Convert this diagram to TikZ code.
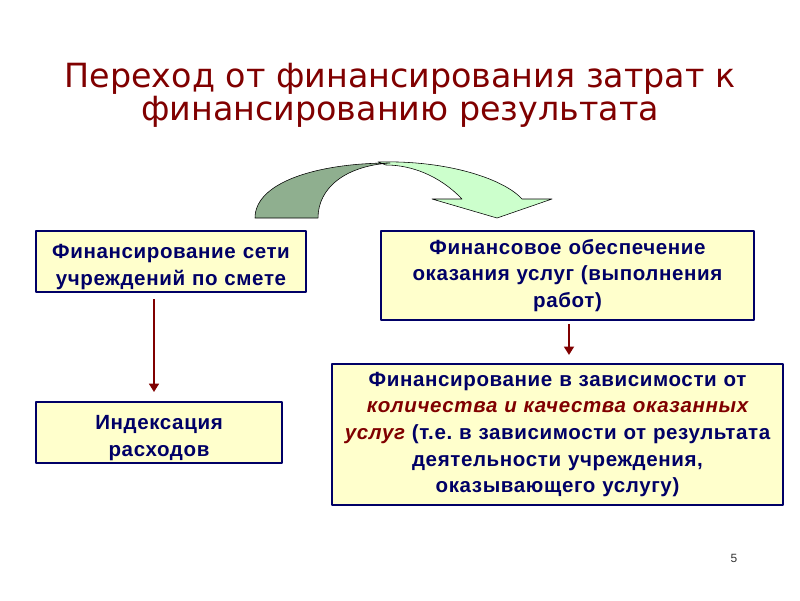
\documentclass[tikz,border=0pt]{standalone}
\usepackage{fontspec}
\setmainfont{Liberation Sans}
\newfontfamily\titlefont{DejaVu Sans}
\newfontfamily\boxfont[LetterSpace=3]{Liberation Sans}
\usepackage{tikz}
\usetikzlibrary{arrows.meta}
\frenchspacing

\definecolor{titlered}{RGB}{128,0,0}
\definecolor{boxnavy}{RGB}{0,0,102}
\definecolor{boxfill}{RGB}{255,255,204}
\definecolor{backgreen}{RGB}{143,175,143}
\definecolor{frontgreen}{RGB}{204,255,204}

\begin{document}
\begin{tikzpicture}[
            x = 0.025cm, y = -0.025cm, % one unit is one pixel of the slide
            > = {Triangle[length=6pt, width=7pt]}, % arrow head style
            line join = round
        ]

        \tikzstyle{box}=[
            draw = boxnavy,
            line width = 1.4pt,
            fill = boxfill,
            text = boxnavy,
            font = \boxfont\fontsize{14.6}{19}\selectfont\bfseries,
            align = center,
            inner sep = 0pt
        ]
        \tikzstyle{lowtext}=[
            execute at begin node = {\rule{0pt}{18pt}}
        ]
        \tikzstyle{arr}=[
            ->,
            draw = titlered,
            line width = 2pt
        ]

        \useasboundingbox (0,0) rectangle (800,600);

        % title
        \node[text = titlered, font = \titlefont\fontsize{23.7}{23.5}\selectfont, align = center]
            (title) at (400,95) {Переход от финансирования затрат к\\финансированию результата};

        % curved arrow
        \path[draw = black, thin, fill = frontgreen]
            (378,162) .. controls (450,160) and (505,180) .. (522,199)
            -- (552,199) -- (497,218) -- (432,199) -- (462,199)
            .. controls (440,176) and (412,165) .. (386,165) -- cycle;
        \path[draw = black, thin, fill = backgreen]
            (255,218) .. controls (255,182) and (318,163) .. (390,163)
            .. controls (345,166) and (318,188) .. (318,218) -- cycle;

        \node[box, lowtext, text width = 6.5cm, minimum width = 6.75cm, minimum height = 1.525cm]
            (smeta) at (171,261.5) {Финансирование сети\\учреждений по смете};
        \node[box, text width = 9.1cm, minimum width = 9.325cm, minimum height = 2.225cm]
            (uslugi) at (567.5,275.5) {Финансовое обеспечение\\оказания услуг (выполнения\\работ)};
        \node[box, lowtext, text width = 5.9cm, minimum width = 6.15cm, minimum height = 1.525cm]
            (index) at (159,432.5) {Индексация\\расходов};
        \node[box, text width = 11.1cm, minimum width = 11.275cm, minimum height = 3.525cm]
            (result) at (557.5,434.5) {Финансирование в зависимости от\\
            {\color{titlered}\itshape количества и качества оказанных}\\
            {\color{titlered}\itshape услуг} (т.е. в зависимости от результата\\
            деятельности учреждения,\\оказывающего услугу)};

        \draw[arr, shorten <= 4.3pt, shorten >= 6.4pt] (smeta.south -| 154,0) -- (index.north -| 154,0);
        \draw[arr, shorten <= 2pt, shorten >= 5.7pt] (uslugi.south -| 569,0) -- (result.north -| 569,0);

        % slide number
        \node[font = \fontsize{8.5}{10}\selectfont, text = black!80] (num) at (734,558) {5};

\end{tikzpicture}
\end{document}
